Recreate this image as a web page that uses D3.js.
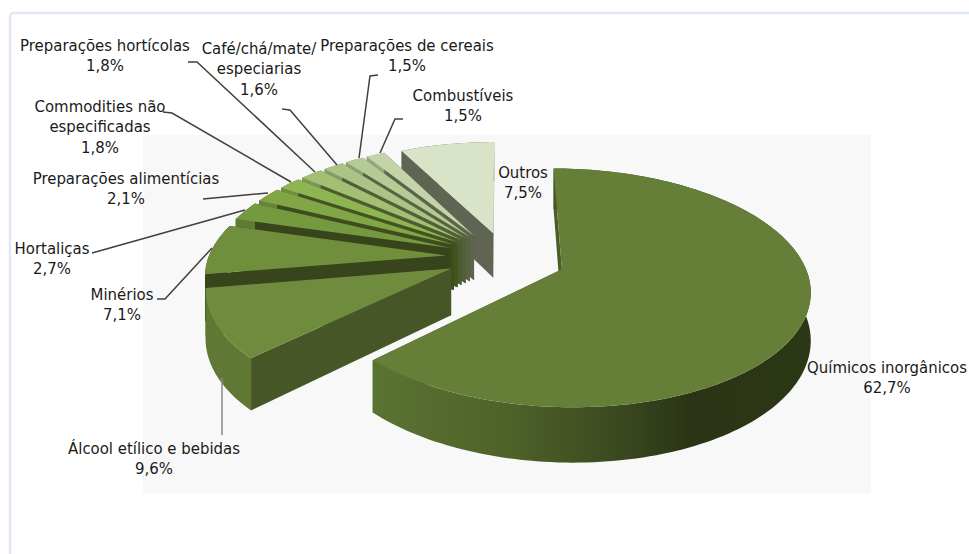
<!DOCTYPE html>
<head>
    <meta charset="utf-8">
    <script src="https://cdnjs.cloudflare.com/ajax/libs/d3/7.9.0/d3.js"></script>
    <style>
        body { margin: 0; background: #fff; }
        text { font-family: "DejaVu Sans"; font-size: 16.6px; font-stretch: condensed; fill: #1a1a1a; text-anchor: middle; dominant-baseline: central; }
    </style>
</head>
<body>
    <div id="chart"></div>
</body>
<script>

// the data, clockwise from the top of the pie

const categories = ["Químicos inorgânicos", "Álcool etílico e bebidas", "Minérios", "Hortaliças",
    "Preparações alimentícias", "Commodities não especificadas", "Preparações hortícolas",
    "Café/chá/mate/ especiarias", "Preparações de cereais", "Combustíveis", "Outros"]
const values = [62.7, 9.6, 7.1, 2.7, 2.1, 1.8, 1.8, 1.6, 1.5, 1.5, 7.5]

// colours per slice: top face, radial wall, outer wall

const topColors = ["#667f38", "#6f8b3d", "#6f8f3c", "#75993f", "#80a646", "#8fb552", "#a3bf74", "#abc385", "#b5cb96", "#c2d4a8", "#d8e3c7"]
const wallColors = ["#4a5c28", "#465626", "#38441b", "#38441b", "#3f4d1e", "#445322", "#4d5c30", "#525f3a", "#586343", "#5c6549", "#5f6552"]
const outerColors = ["#57702f", "#5f7833", "#38441b", "#5f7a33", "#66853a", "#6f8f40", "#7d9657", "#859c66", "#8ca274", "#93a880", "#5f6552"]

// label placement: text lines centred on x, first line at y, then where the leader goes

const labelLayout = [
    {x: 887, y: 367, lines: ["Químicos inorgânicos"]},
    {x: 154, y: 448, lines: ["Álcool etílico e bebidas"], leader: [[222, 378], [222, 435]]},
    {x: 122, y: 294, lines: ["Minérios"], leader: [[157, 299], [165, 299], [212, 248]]},
    {x: 52, y: 248, lines: ["Hortaliças"], leader: [[92, 253], [245, 210]]},
    {x: 126, y: 178, lines: ["Preparações alimentícias"], leader: [[203, 199], [268, 193]]},
    {x: 100, y: 106, lines: ["Commodities não", "especificadas"], leader: [[163, 112], [172, 113], [291, 182]]},
    {x: 105, y: 45, lines: ["Preparações hortícolas"], leader: [[188, 62], [197, 62], [315, 172]]},
    {x: 259, y: 48, lines: ["Café/chá/mate/", "especiarias"], leader: [[282, 109], [290, 110], [337, 165]]},
    {x: 407, y: 45, lines: ["Preparações de cereais"], leader: [[378, 75], [370, 76], [359, 158]]},
    {x: 463, y: 95, lines: ["Combustíveis"], leader: [[403, 119], [395, 119], [380, 153]]},
    {x: 523, y: 172, lines: ["Outros"]}
]

const width = 969
const height = 554

// pie projection: unit pie on a tilted plane with some perspective

const center = {x: 500, y: 257}
const radiusX = 245
const radiusY = 115
const perspective = 0.156
const depth = 46
const explode = [0.27, 0.22]
const shrink = [0.98, 0.97]
const lineHeight = 20.5

const svg = d3.select("#chart")
    .append("svg")
    .attr("width", width)
    .attr("height", height)

// chart frame and plot area

svg.append("path")
    .attr("d", "M10,554 V17 Q10,13 14,13 H969")
    .attr("fill", "none")
    .attr("stroke", "#dfe8f3")
    .attr("stroke-width", 2.5)

svg.append("rect")
    .attr("x", 143).attr("y", 135)
    .attr("width", 728).attr("height", 358)
    .attr("fill", "#f8f8f8")

const defs = svg.append("defs")
const outerGrad = defs.append("linearGradient").attr("id", "outerBig")
outerGrad.selectAll("stop")
    .data([[0, "#5a7332"], [0.3, "#4f6329"], [0.55, "#3c4a20"], [0.72, "#2b3515"], [1, "#2c3716"]])
    .join("stop")
    .attr("offset", d => d[0])
    .attr("stop-color", d => d[1])

// world to screen

function project(wx, wy, z) {
    const k = 1 / (1 + perspective * wy)
    return [center.x + wx * radiusX * k, center.y - wy * radiusY * k + z * depth * k]
}

const pie = d3.pie().sort(null).value(d => d)
const slices = pie(values).map((d, i) => {
    const mid = (d.startAngle + d.endAngle) / 2
    const e = i == 0 ? explode[0] : explode[1]
    // the last slice sits almost straight behind the centre in the reference
    const ox = i == values.length - 1 ? Math.sin(mid) * e * 0.55 : Math.sin(mid) * e
    return {...d, i, r: i == 0 ? shrink[0] : shrink[1], ox, oy: Math.cos(mid) * e}
})

const line = d3.line()

function rim(s, z) {
    const n = Math.max(2, Math.ceil((s.endAngle - s.startAngle) * 40))
    return d3.range(n + 1).map(j => {
        const a = s.startAngle + (s.endAngle - s.startAngle) * j / n
        return project(s.ox + s.r * Math.sin(a), s.oy + s.r * Math.cos(a), z)
    })
}

// painter's order: back slices first, the big one last

const order = d3.range(1, values.length).reverse().concat([0])

order.forEach(i => {
    const s = slices[i]
    const top = rim(s, 0)
    const bottom = rim(s, 1)
    const apexTop = project(s.ox, s.oy, 0)
    const apexBottom = project(s.ox, s.oy, 1)
    const g = svg.append("g")

    // radial walls
    const first = 0, last = top.length - 1
    ;[first, last].forEach(e => {
        g.append("path")
            .attr("d", line([apexTop, top[e], bottom[e], apexBottom]) + "Z")
            .attr("fill", wallColors[i])
    })

    // outer wall
    g.append("path")
        .attr("d", line(top.concat(bottom.slice().reverse())) + "Z")
        .attr("fill", i == 0 ? "url(#outerBig)" : outerColors[i])

    // top face
    g.append("path")
        .attr("d", line([apexTop].concat(top)) + "Z")
        .attr("fill", topColors[i])
})

// leaders and labels

labelLayout.forEach((l, i) => {
    if (l.leader) {
        svg.append("path")
            .attr("d", line(l.leader))
            .attr("fill", "none")
            .attr("stroke", i == 1 ? "#8a8a8a" : "#404040")
            .attr("stroke-width", 1.5)
    }
    const rows = l.lines.concat([String(values[i]).replace(".", ",") + "%"])
    rows.forEach((t, j) => {
        svg.append("text")
            .attr("x", l.x)
            .attr("y", l.y + j * lineHeight)
            .text(t)
    })
})

</script>
